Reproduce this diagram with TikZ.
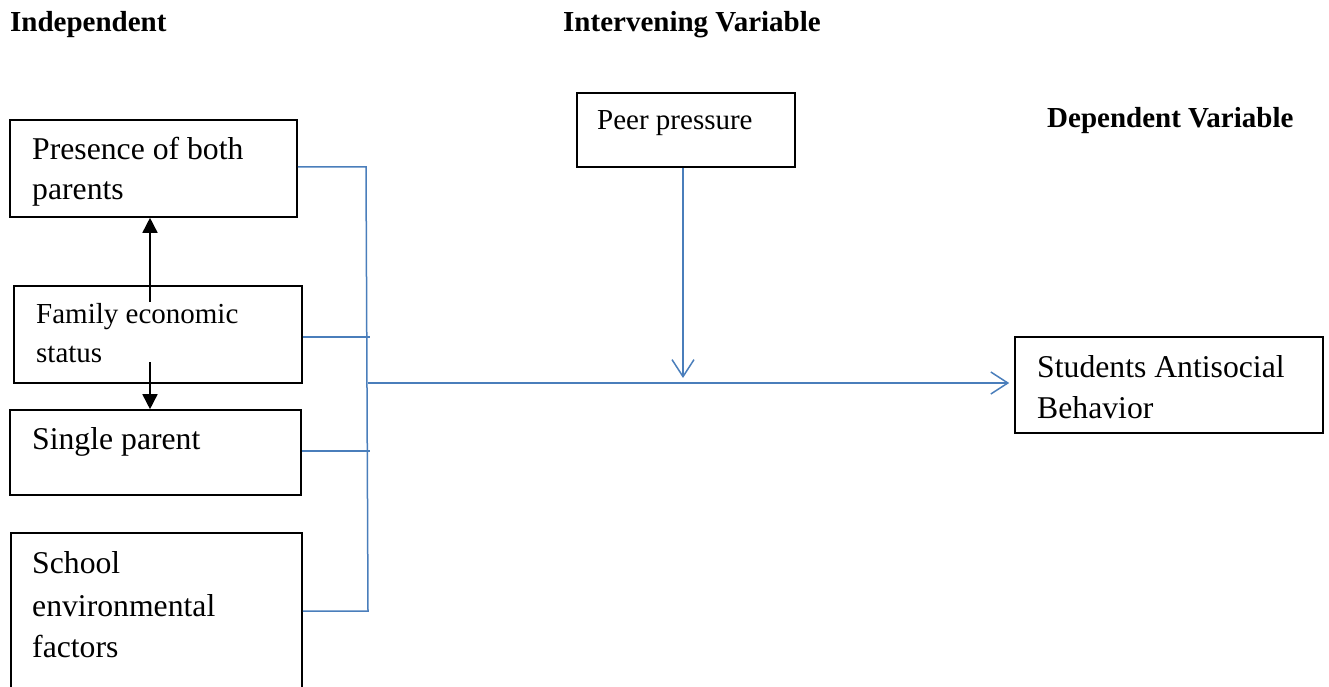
\documentclass[tikz,border=0pt]{standalone}
\usepackage{fontspec}
\setmainfont{Liberation Serif}
\usetikzlibrary{arrows.meta}
\definecolor{lineblue}{RGB}{74,126,187}
\newcommand\fbig{\fontsize{31.7}{38}\selectfont}
\newcommand\fsmall{\fontsize{29}{35}\selectfont}
\tikzset{
  box/.style={draw=black, line width=1.6pt, inner sep=0pt, rectangle},
  txt/.style={anchor=base west, inner sep=0pt, font=\fbig},
  txts/.style={anchor=base west, inner sep=0pt, font=\fsmall},
  head/.style={anchor=base west, inner sep=0pt, font=\fsmall\bfseries},
  bl/.style={draw=lineblue, line width=1.5pt},
  blarrow/.style={bl, -{Straight Barb[length=17pt,width=22pt,line width=1.5pt]}},
  karrow/.style={draw=black, line width=1.6pt, -{Triangle[length=15pt,width=15pt]}}
}
\begin{document}
\begin{tikzpicture}[x=1pt,y=-1pt]
\useasboundingbox (0,0) rectangle (1329,687);
\clip (0,0) rectangle (1329,687);
% headings
\node[head] (h1) at (10,32) {Independent};
\node[head] (h2) at (563,32) {Intervening Variable};
\node[head] (h3) at (1047,128) {Dependent Variable};
% boxes
\node[box, minimum width=287pt, minimum height=97pt] (b1) at (153.5,168.5) {};
\node[box, minimum width=288pt, minimum height=97pt] (b2) at (158,334.5) {};
\node[box, minimum width=291pt, minimum height=85pt] (b3) at (155.5,452.5) {};
\node[box, minimum width=291pt, minimum height=187pt] (b4) at (156.5,626.5) {};
\node[box, minimum width=218pt, minimum height=74pt] (peer) at (686,130) {};
\node[box, minimum width=308pt, minimum height=96pt] (sab) at (1169,385) {};
% texts
\node[txt] (t1a) at (32,160) {Presence of both};
\node[txt] (t1b) at (32,200) {parents};
\node[txts] (t2a) at (36,323) {Family economic};
\node[txts] (t2b) at (36,362) {status};
\node[txt] (t3a) at (32,449) {Single parent};
\node[txt] (t4a) at (32,573) {School};
\node[txt] (t4b) at (32,616) {environmental};
\node[txt] (t4c) at (32,657) {factors};
\node[txts] (tp) at (597,130) {Peer pressure};
\node[txt] (tsa) at (1037,377) {Students Antisocial};
\node[txt] (tsb) at (1037,418) {Behavior};
% blue connectors
\coordinate (jt) at (366,167);
\coordinate (jb) at (368,611);
\coordinate (jm) at (368,383);
\coordinate (t2) at (370,337);
\coordinate (t3) at (370,451);
\coordinate (pa) at (683,378);
\draw[bl] (b1.east |- jt) -- (jt) -- (jb) -- (b4.east |- jb);
\draw[bl] (b2.east |- t2) -- (t2);
\draw[bl] (b3.east |- t3) -- (t3);
\draw[blarrow, shorten >=5pt] (jm) -- (sab.west |- jm);
\draw[blarrow] (peer.south -| pa) -- (pa);
% black arrows
\coordinate (k1) at (150,302);
\coordinate (k2) at (150,362);
\draw[karrow] (k1) -- (b1.south -| k1);
\draw[karrow] (k2) -- (b3.north -| k2);
\end{tikzpicture}
\end{document}
